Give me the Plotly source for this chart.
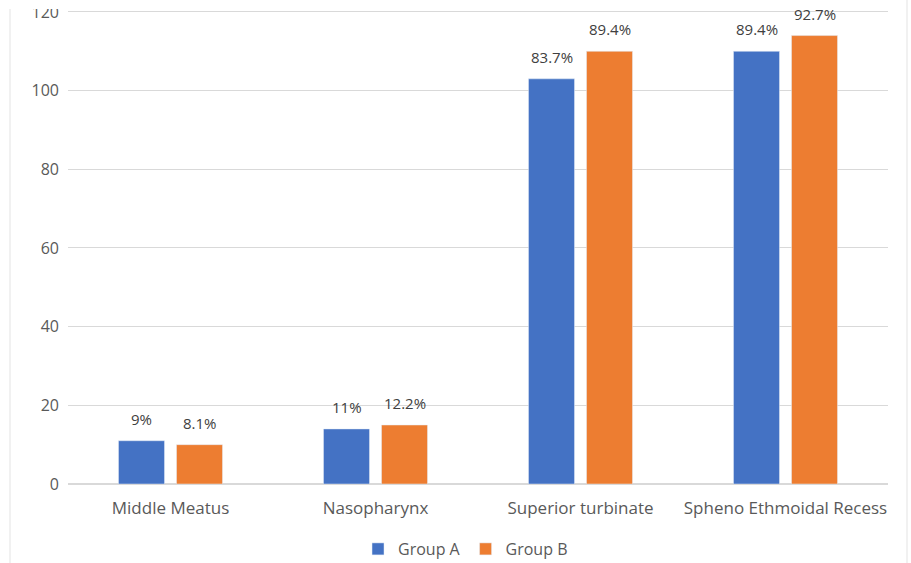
import plotly.graph_objects as go

# Sites examined and per-group counts (bar heights) with their percentage labels
sites = ["Middle Meatus", "Nasopharynx", "Superior turbinate", "Spheno Ethmoidal Recess"]
group_a = [11, 14, 103, 110]
group_b = [10, 15, 110, 114]
group_a_pct = ["9%", "11%", "83.7%", "89.4%"]
group_b_pct = ["8.1%", "12.2%", "89.4%", "92.7%"]
y_ticks = [0, 20, 40, 60, 80, 100, 120]

FONT = "Open Sans"
TEXT_GREY = "#595959"
LABEL_GREY = "#404040"
W, H = 911, 563
ML, MR, MT, MB = 68, 23, 10, 79

fig = go.Figure()
fig.add_trace(go.Bar(x=sites, y=group_a, name="Group A", marker_color="#4472C4"))
fig.add_trace(go.Bar(x=sites, y=group_b, name="Group B", marker_color="#ED7D31"))

# percentage labels floating a little above each bar
for vals, pcts, dx in ((group_a, group_a_pct, -29), (group_b, group_b_pct, 29)):
    for site, v, p in zip(sites, vals, pcts):
        fig.add_annotation(
            x=site, y=v, text=p, showarrow=False, xref="x", yref="y",
            xshift=dx, yshift=10, yanchor="bottom",
            font=dict(family=FONT, size=15, color=LABEL_GREY),
        )

fig.update_layout(
    width=W, height=H,
    margin=dict(l=ML, r=MR, t=MT, b=MB, autoexpand=False),
    paper_bgcolor="white", plot_bgcolor="white",
    barmode="group", bargap=0.434, bargroupgap=0.207,
    font=dict(family=FONT, size=16, color=TEXT_GREY),
    showlegend=True,
    legend=dict(
        orientation="h", xref="container", yref="container",
        x=0.511, xanchor="center", y=1 - 549 / H, yanchor="middle",
        font=dict(family=FONT, size=16, color=TEXT_GREY),
        itemwidth=30, traceorder="normal",
    ),
)
fig.update_xaxes(
    showgrid=False, showline=False, ticks="", ticklabelstandoff=12,
    tickfont=dict(family=FONT, size=17, color=TEXT_GREY),
)
fig.update_yaxes(
    range=[0, 120.5], tickvals=y_ticks, showgrid=True, gridcolor="#d9d9d9",
    gridwidth=1, zeroline=True, zerolinecolor="#d9d9d9", showline=False,
    ticks="", ticklabelstandoff=8, ticklabeloverflow="allow",
    tickfont=dict(family=FONT, size=16, color=TEXT_GREY),
)

PW, PH = W - ML - MR, H - MT - MB


def px_x(px):
    return (px - ML) / PW


def px_y(py):
    return (H - MB - py) / PH


# thin frame lines at the left and right edges of the page
for xp in (10, 907):
    fig.add_shape(type="line", xref="paper", yref="paper",
                  x0=px_x(xp), x1=px_x(xp), y0=px_y(H), y1=px_y(0),
                  line=dict(color="#e3e3e3", width=1))

# the page is trimmed just above the top gridline
fig.add_shape(type="rect", xref="paper", yref="paper", layer="above",
              x0=px_x(0), x1=px_x(60), y0=px_y(9), y1=px_y(-5),
              fillcolor="white", line=dict(width=0))

fig.write_html("out.html")
